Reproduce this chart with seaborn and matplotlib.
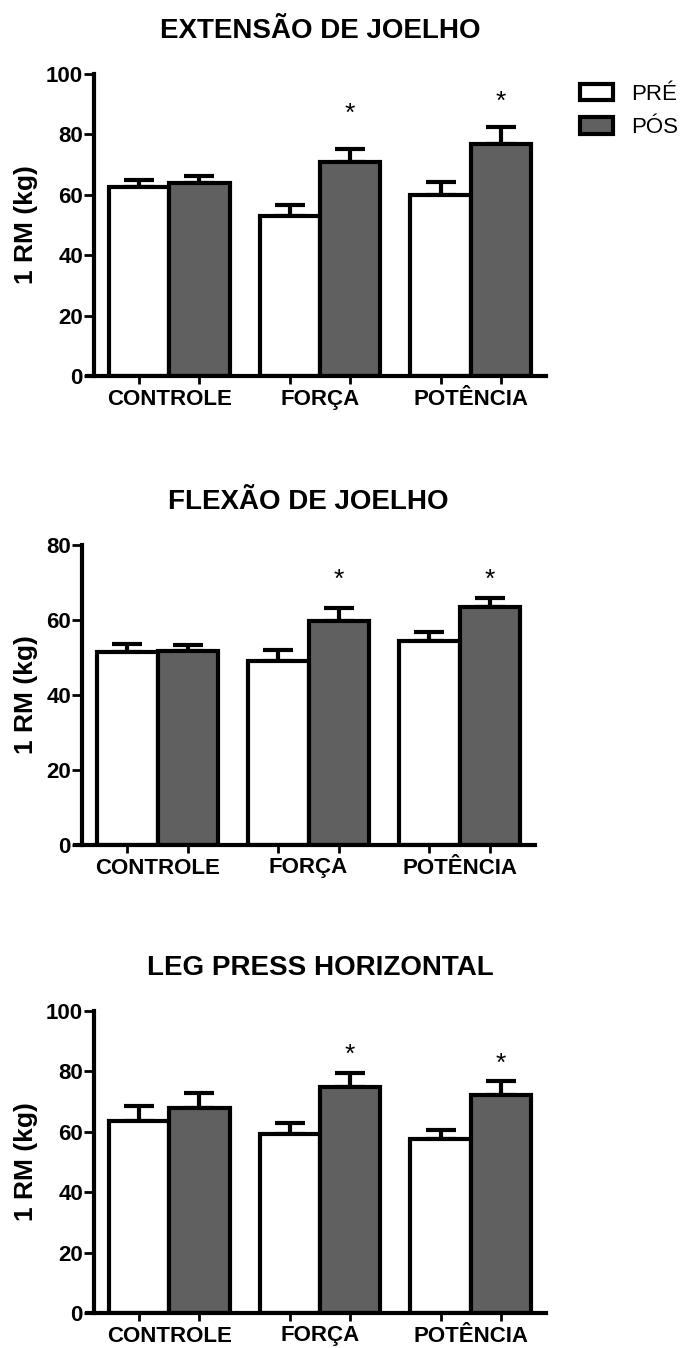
import numpy as np
import pandas as pd
import matplotlib
matplotlib.use("Agg")
import matplotlib.pyplot as plt
import seaborn as sns

# ---- data (1RM, kg; mean and standard error) ----
groups = ["CONTROLE", "FORÇA", "POTÊNCIA"]
moments = ["PRÉ", "PÓS"]

ext_pre = [62.7, 53.0, 60.0]
ext_pre_sem = [2.2, 3.6, 4.1]
ext_pos = [63.8, 70.8, 76.9]
ext_pos_sem = [2.5, 4.3, 5.4]

flex_pre = [51.5, 49.1, 54.4]
flex_pre_sem = [2.0, 3.0, 2.5]
flex_pos = [51.7, 59.8, 63.4]
flex_pos_sem = [1.7, 3.3, 2.6]

leg_pre = [63.7, 59.3, 57.6]
leg_pre_sem = [4.8, 3.5, 2.9]
leg_pos = [68.0, 75.0, 72.3]
leg_pos_sem = [4.8, 4.6, 4.5]

panel_titles = ["EXTENSÃO DE JOELHO", "FLEXÃO DE JOELHO", "LEG PRESS HORIZONTAL"]
y_max = [100, 80, 100]
# significance (PÓS vs PRÉ) per group
significant = [[False, True, True], [False, True, True], [False, True, True]]

panels = [
    (ext_pre, ext_pre_sem, ext_pos, ext_pos_sem),
    (flex_pre, flex_pre_sem, flex_pos, flex_pos_sem),
    (leg_pre, leg_pre_sem, leg_pos, leg_pos_sem),
]

# ---- layout ----
W, H = 685, 1348
axes_px = [(94, 546, 74, 376), (82, 535, 545, 845), (94, 546, 1011, 1313)]
star_y = [[None, 89.7, 93.6], [None, 72.9, 72.9], [None, 88.2, 85.4]]

sns.set_theme(style="white")
plt.rcParams["font.family"] = ["Liberation Sans", "DejaVu Sans"]
plt.rcParams["font.weight"] = "bold"
plt.rcParams["text.color"] = "black"
plt.rcParams["axes.labelcolor"] = "black"
plt.rcParams["axes.titlecolor"] = "black"
plt.rcParams["xtick.color"] = "black"
plt.rcParams["ytick.color"] = "black"

fig = plt.figure(figsize=(W / 100, H / 100), dpi=100)
fill = {"PRÉ": "#ffffff", "PÓS": "#606060"}

for k, (pre, pre_sem, pos, pos_sem) in enumerate(panels):
    l, r, t, b = axes_px[k]
    ax = fig.add_axes([l / W, 1 - b / H, (r - l) / W, (b - t) / H])
    df = pd.DataFrame({
        "grupo": groups * 2,
        "momento": [moments[0]] * 3 + [moments[1]] * 3,
        "rm": pre + pos,
    })
    sns.barplot(data=df, x="grupo", y="rm", hue="momento", order=groups,
                hue_order=moments, palette=fill, saturation=1, width=0.8,
                edgecolor="black", linewidth=3, errorbar=None, ax=ax,
                legend=(k == 0))

    centers = []
    for cont, means, sems in zip(ax.containers, (pre, pos), (pre_sem, pos_sem)):
        xs = [bar.get_x() + bar.get_width() / 2 for bar in cont]
        centers.extend(xs)
        ax.errorbar(xs, means, yerr=[np.zeros(len(sems)), sems], fmt="none",
                    ecolor="black", elinewidth=3, capsize=10.5, capthick=3,
                    zorder=0.5)
        if cont is ax.containers[1]:
            for j, x in enumerate(xs):
                if significant[k][j]:
                    ax.annotate("*", (x, star_y[k][j]), xytext=(0, -11),
                                textcoords="offset points", ha="center",
                                va="baseline", fontsize=19,
                                fontweight="normal", color="black")

    ax.set_xlim(-0.5, 2.5)
    ax.set_ylim(0, y_max[k])
    ax.set_yticks(np.arange(0, y_max[k] + 1, 20))
    ax.set_xticks(centers, minor=True)
    ax.set_xlabel("")
    ax.set_ylabel("1 RM (kg)", fontsize=19, fontweight="bold", color="black")
    ax.yaxis.set_label_coords((38 - l) / (r - l), 0.5)
    ax.set_title(panel_titles[k], fontsize=20, fontweight="bold", pad=26,
                 color="black")

    for side in ("top", "right"):
        ax.spines[side].set_visible(False)
    for side in ("left", "bottom"):
        ax.spines[side].set_linewidth(3)
        ax.spines[side].set_color("black")
    ax.spines["bottom"].set_bounds(-0.546, 2.5)
    ax.spines["left"].set_bounds(0, y_max[k])

    ax.tick_params(axis="y", which="major", length=7, width=2, pad=1,
                   labelsize=16, color="black", labelcolor="black", left=True)
    ax.tick_params(axis="x", which="major", length=0, pad=9, labelsize=16,
                   labelcolor="black")
    ax.tick_params(axis="x", which="minor", length=6, width=2,
                   color="black", bottom=True)
    for lbl in ax.get_xticklabels() + ax.get_yticklabels():
        lbl.set_fontweight("bold")
        lbl.set_color("black")

    if k == 0:
        leg = ax.get_legend()
        handles = leg.legend_handles
        labels = [txt.get_text() for txt in leg.get_texts()]
        leg.remove()
        for h in handles:
            h.set_edgecolor("black")
            h.set_linewidth(3)
        lg = fig.legend(handles, labels, loc="upper left",
                        bbox_to_anchor=(580 / W, 1 - 84 / H), frameon=False,
                        prop={"size": 16, "weight": "normal"},
                        handlelength=1.5, handleheight=0.75, handletextpad=0.8,
                        labelspacing=0.55, borderpad=0, borderaxespad=0)
        for txt in lg.get_texts():
            txt.set_color("black")

fig.savefig("out.png", dpi=100, facecolor="white")
